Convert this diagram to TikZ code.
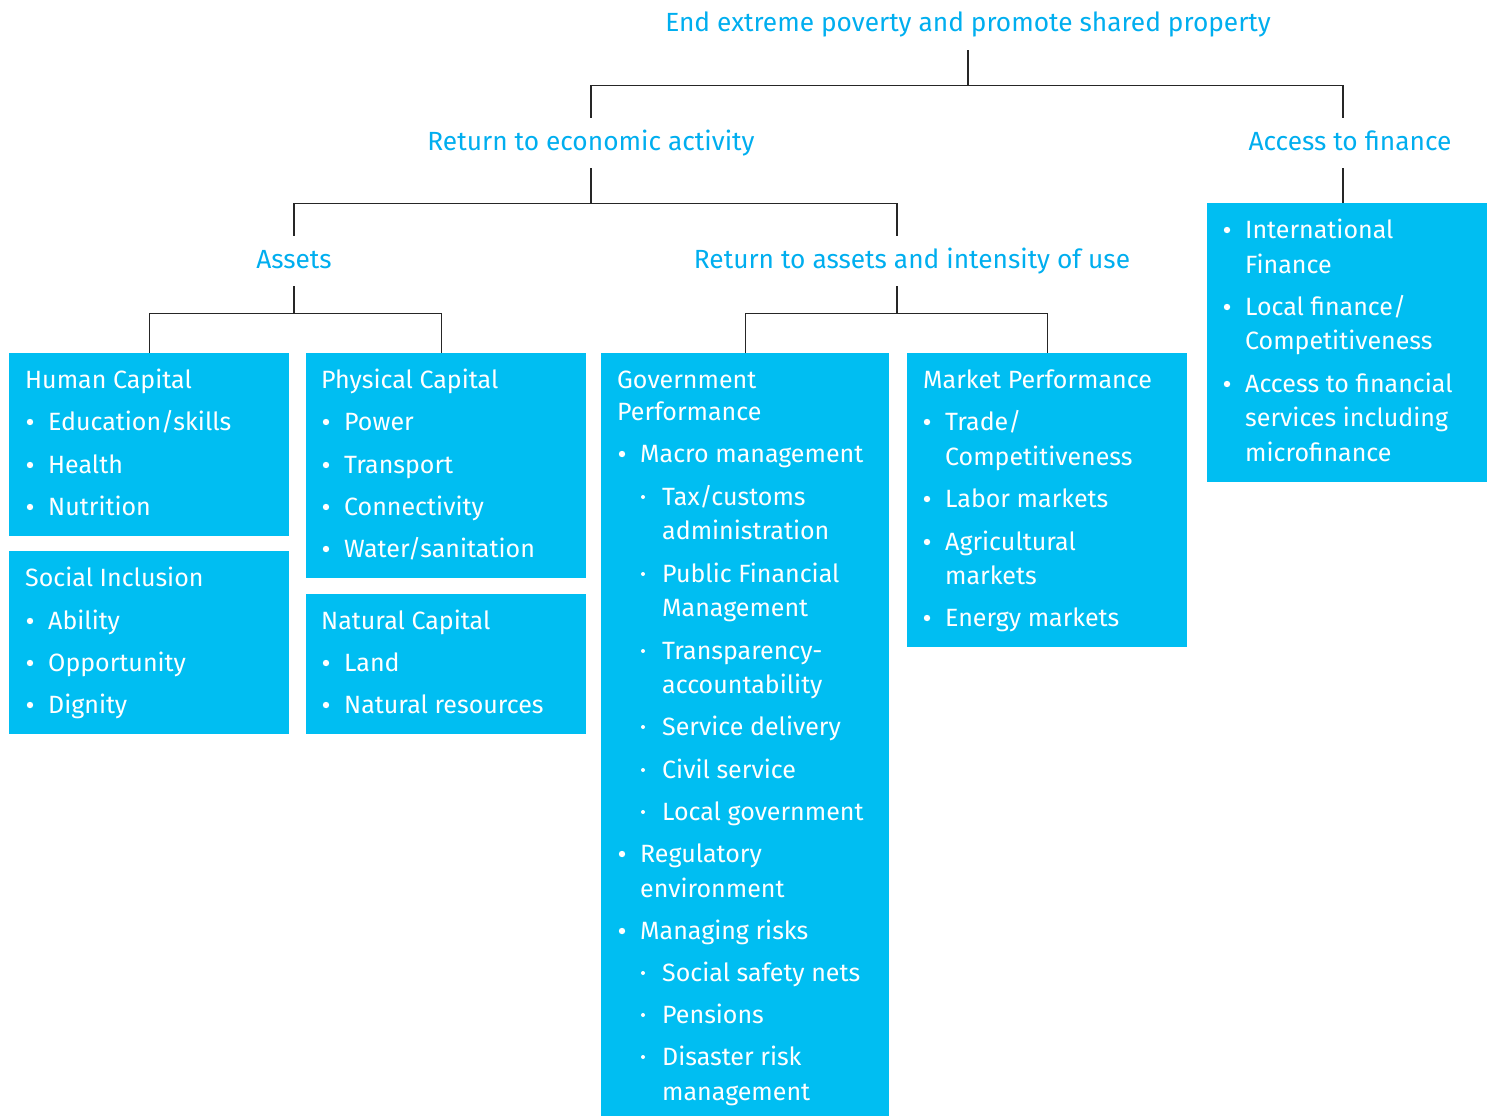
\documentclass[tikz,border=0pt]{standalone}
\usepackage{fontspec}
\setmainfont{Fira Sans}
\definecolor{headblue}{RGB}{0,174,239}
\definecolor{panelblue}{RGB}{0,190,242}
\tikzset{
  head/.style={text=headblue, font=\fontsize{26.3}{31}\selectfont, inner sep=0pt, text height=32pt, text depth=18pt, anchor=base},
  panel/.style={fill=panelblue, inner sep=0pt, anchor=north west},
  ptxt/.style={text=white, font=\fontsize{25}{30}\selectfont, inner sep=0pt, anchor=base west},
  link/.style={line width=1.2pt, draw=black!85}
}
\begin{document}
\begin{tikzpicture}[x=1pt, y=-1pt]
\useasboundingbox (0,0) rectangle (1494,1116);

% headings
\node[head] (title) at (968,32) {End extreme poverty and promote shared property};
\node[head] (econ) at (591,150) {Return to economic activity};
\node[head] (fin) at (1350,150) {Access to finance};
\node[head] (assets) at (294,268) {Assets};
\node[head] (ret) at (912,268) {Return to assets and intensity of use};

% panels
\node[panel, minimum width=280, minimum height=183] (hc) at (9,353) {};
\node[panel, minimum width=280, minimum height=183] (si) at (9,551) {};
\node[panel, minimum width=280, minimum height=225] (pc) at (306,353) {};
\node[panel, minimum width=280, minimum height=140] (nc) at (306,594) {};
\node[panel, minimum width=288, minimum height=763] (gov) at (601,353) {};
\node[panel, minimum width=280, minimum height=294] (mkt) at (907,353) {};
\node[panel, minimum width=280, minimum height=279] (finbox) at (1207,203) {};

% tree
\draw[link] (title.south) -- ++(0,35) -| (econ.north);
\draw[link] (title.south) ++(0,35) -| ([xshift=-7]fin.north);
\draw[link] (econ.south) -- ++(0,35) -| (assets.north);
\draw[link] (econ.south) ++(0,35) -| ([xshift=-15]ret.north);
\draw[link] (assets.south) -- ++(0,27) -| (hc.north);
\draw[link] (assets.south) ++(0,27) -| ([xshift=-5]pc.north);
\draw[link] ([xshift=-15]ret.south) -- ++(0,27) -| (gov.north);
\draw[link] ([xshift=-15]ret.south) ++(0,27) -| (mkt.north);
\draw[link] ([xshift=-7]fin.south) -- ([xshift=-7]fin.south |- finbox.north);

% Human Capital
\foreach \x/\y/\t [count=\i] in {25/388/Human Capital, 48/430/{Education/skills}, 48/473/Health, 48/515/Nutrition}
  \node[ptxt] (hc-\i) at (\x,\y) {\t};
\foreach \y in {430,473,515} \fill[white] (30,\y-8) circle (3.2pt);

% Social Inclusion
\foreach \x/\y/\t [count=\i] in {25/586/Social Inclusion, 48/629/Ability, 48/671/Opportunity, 48/713/Dignity}
  \node[ptxt] (si-\i) at (\x,\y) {\t};
\foreach \y in {629,671,713} \fill[white] (30,\y-8) circle (3.2pt);

% Physical Capital
\foreach \x/\y/\t [count=\i] in {321/388/Physical Capital, 344/430/Power, 344/473/Transport, 344/515/Connectivity, 344/557/{Water/sanitation}}
  \node[ptxt] (pc-\i) at (\x,\y) {\t};
\foreach \y in {430,473,515,557} \fill[white] (326,\y-8) circle (3.2pt);

% Natural Capital
\foreach \x/\y/\t [count=\i] in {321/629/Natural Capital, 344/671/Land, 344/713/Natural resources}
  \node[ptxt] (nc-\i) at (\x,\y) {\t};
\foreach \y in {671,713} \fill[white] (326,\y-8) circle (3.2pt);

% Government Performance
\foreach \x/\y/\t [count=\i] in {617/388/Government, 617/420/Performance,
    640/462/Macro management, 662/505/{Tax/customs}, 662/539/administration,
    662/582/Public Financial, 662/616/Management, 662/659/Transparency-,
    662/693/accountability, 662/735/Service delivery, 662/778/Civil service,
    662/820/Local government, 640/862/Regulatory, 640/897/environment,
    640/939/Managing risks, 662/981/Social safety nets, 662/1023/Pensions,
    662/1065/Disaster risk, 662/1100/management}
  \node[ptxt] (gov-\i) at (\x,\y) {\t};
\foreach \y in {462,862,939} \fill[white] (622,\y-8) circle (3.2pt);
\foreach \y in {505,582,659,735,778,820,981,1023,1065} \fill[white] (643,\y-8) circle (2pt);

% Market Performance
\foreach \x/\y/\t [count=\i] in {923/388/Market Performance, 945/430/{Trade/}, 945/465/Competitiveness,
    945/507/Labor markets, 945/550/Agricultural, 945/584/markets, 945/626/Energy markets}
  \node[ptxt] (mkt-\i) at (\x,\y) {\t};
\foreach \y in {430,507,550,626} \fill[white] (927,\y-8) circle (3.2pt);

% Access to finance
\foreach \x/\y/\t [count=\i] in {1245/238/International, 1245/273/Finance, 1245/315/{Local finance/},
    1245/349/Competitiveness, 1245/392/Access to financial, 1245/426/services including, 1245/461/microfinance}
  \node[ptxt] (fb-\i) at (\x,\y) {\t};
\foreach \y in {238,315,392} \fill[white] (1227,\y-8) circle (3.2pt);
\end{tikzpicture}
\end{document}
